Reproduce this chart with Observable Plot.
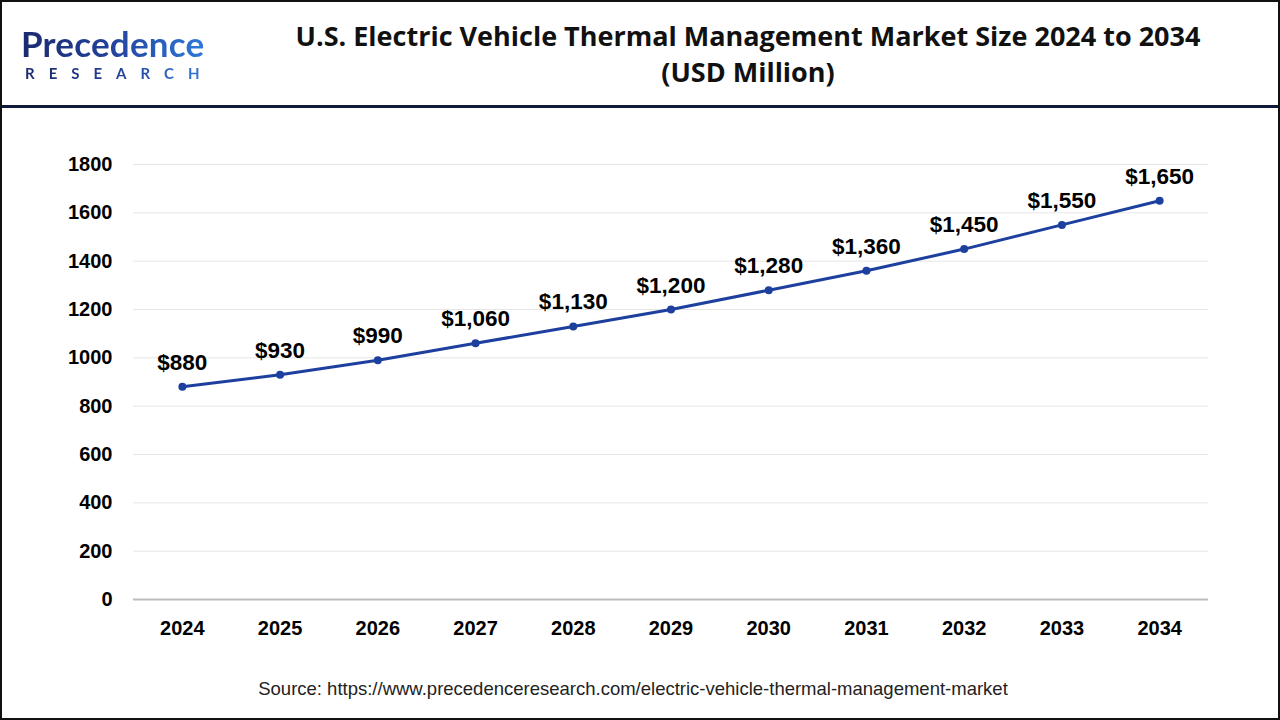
<!DOCTYPE html>
<html>
<head>
<meta charset="utf-8">
<script src="https://cdn.jsdelivr.net/npm/d3@7"></script>
<script src="https://cdn.jsdelivr.net/npm/@observablehq/plot@0.6"></script>
<style>
  html, body { margin: 0; padding: 0; background: #fff; }
  #frame { position: relative; width: 1280px; height: 720px; overflow: hidden; background: #fff; font-family: "Liberation Sans", Arial, sans-serif; }
  #header { position: absolute; left: 0; top: 0; width: 1280px; height: 105px; border-bottom: 3px solid #101a3a; }
  #logo { position: absolute; left: 21px; top: 24px; }
  #logo .p1 { font-family: "Lato", sans-serif; font-weight: 700; font-size: 35px; line-height: 38px; height: 38px; letter-spacing: 0.2px;
    background: linear-gradient(90deg, #1b2a6e 0%, #22409a 45%, #2f7ee0 100%); -webkit-background-clip: text; background-clip: text; color: transparent; }
  #logo .p2 { font-family: "Lato", sans-serif; font-weight: 700; font-size: 15px; line-height: 16px; letter-spacing: 14px; margin-left: 4px; margin-top: 3px;
    background: linear-gradient(90deg, #1b2a6e 0%, #22409a 50%, #2f7ee0 100%); -webkit-background-clip: text; background-clip: text; color: transparent; }
  #title { position: absolute; left: 200px; width: 1096px; top: 18px; text-align: center; font-family: "Open Sans", sans-serif; font-weight: 700; font-size: 27px; line-height: 36px; color: #111; }
  #chart { position: absolute; left: 0; top: 108px; }
  #source { position: absolute; left: 0; width: 1266px; top: 678px; text-align: center; font-size: 18.5px; line-height: 22px; color: #222; }
  #border { position: absolute; left: 0; top: 0; width: 1276px; height: 716px; border: 2px solid #111; pointer-events: none; }
</style>
</head>
<body>
<div id="frame">
  <div id="header">
    <div id="logo"><div class="p1">Precedence</div><div class="p2">RESEARCH</div></div>
    <div id="title">U.S. Electric Vehicle Thermal Management Market Size 2024 to 2034<br>(USD Million)</div>
  </div>
  <div id="chart"></div>
  <div id="source">Source: https://www.precedenceresearch.com/electric-vehicle-thermal-management-market</div>
  <div id="border"></div>
</div>
<script>
const years = [2024, 2025, 2026, 2027, 2028, 2029, 2030, 2031, 2032, 2033, 2034];
const values = [880, 930, 990, 1060, 1130, 1200, 1280, 1360, 1450, 1550, 1650];
const labels = ["$880", "$930", "$990", "$1,060", "$1,130", "$1,200", "$1,280", "$1,360", "$1,450", "$1,550", "$1,650"];
const yTicks = [0, 200, 400, 600, 800, 1000, 1200, 1400, 1600, 1800];

const data = years.map((y, i) => ({year: y, value: values[i], label: labels[i]}));
const lineColor = "#1d3f9e";

const chart = Plot.plot({
  width: 1280,
  height: 560,
  marginLeft: 133,
  marginRight: 72,
  marginTop: 56,
  marginBottom: 69,
  style: { fontFamily: "'Liberation Sans', Arial, sans-serif", color: "#000", background: "transparent" },
  x: { type: "point", domain: years, padding: 0.5, round: false },
  y: { domain: [0, 1800], ticks: yTicks },
  marks: [
    Plot.ruleY(yTicks.filter(d => d > 0), { stroke: "#e6e6e6", strokeWidth: 1 }),
    Plot.ruleY([0], { stroke: "#bdbdbd", strokeWidth: 2 }),
    Plot.axisY({ ticks: yTicks, tickSize: 0, tickPadding: 21, fontSize: 20, fontWeight: "bold", label: null, tickFormat: d => String(d) }),
    Plot.axisX({ tickSize: 0, tickPadding: 21, fontSize: 20, fontWeight: "bold", label: null, tickFormat: d => String(d) }),
    Plot.line(data, { x: "year", y: "value", stroke: lineColor, strokeWidth: 3 }),
    Plot.dot(data, { x: "year", y: "value", fill: lineColor, r: 4 }),
    Plot.text(data, { x: "year", y: "value", text: "label", lineAnchor: "bottom", dy: -17, fontSize: 22.5, fontWeight: "bold", fill: "#000" })
  ]
});
document.getElementById("chart").appendChild(chart);
</script>
</body>
</html>
